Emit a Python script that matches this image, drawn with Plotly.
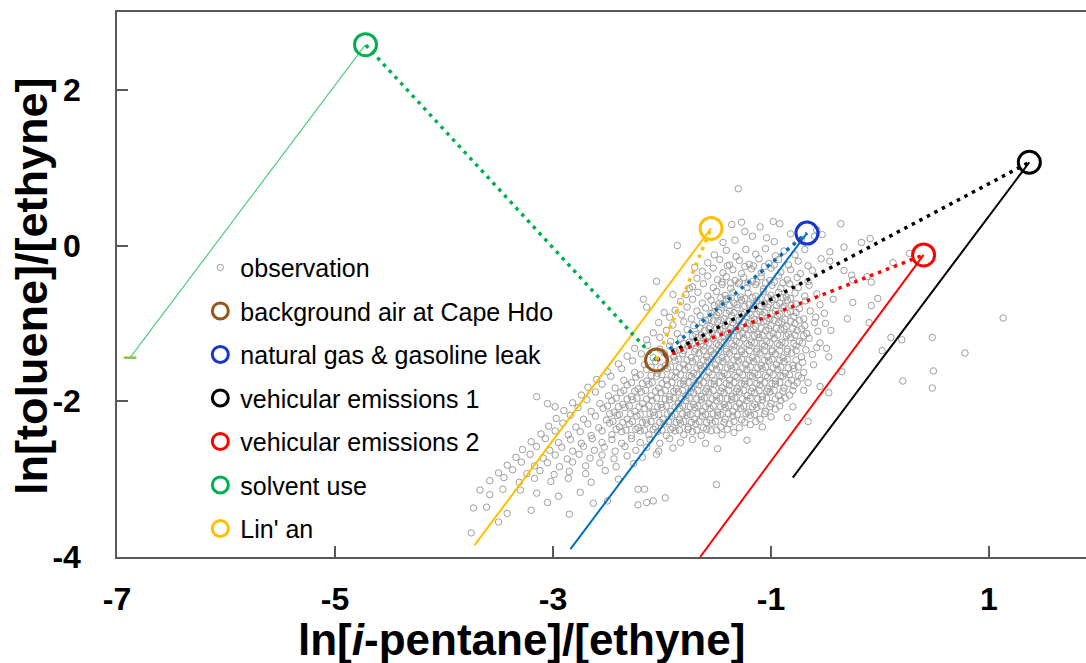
import plotly.graph_objects as go

obs_points = [
    (-1.30, 0.73),
    (-1.27, 0.30), (-1.10, 0.24), (-0.98, 0.31), (-0.92, 0.28), (-1.36, 0.27), (-0.36, 0.28),
    (-1.44, 0.04), (-1.33, 0.07), (-1.17, 0.12), (-1.04, 0.10), (-1.24, 0.18), (-0.97, 0.05), (-1.86, 0.00),
    (-0.53, 0.14), (-0.17, 0.04), (-0.09, 0.09), (-0.60, 0.12), (-0.72, 0.08), (-0.58, 0.20), (-0.82, 0.15),
    (-1.52, -0.12), (-1.41, -0.06), (-1.32, -0.14), (-1.23, -0.05), (-1.14, -0.11), (-1.05, -0.04), (-0.96, -0.13),
    (-0.88, -0.07), (-0.78, -0.12), (-0.69, -0.05), (-0.46, -0.08), (-0.33, -0.02), (0.27, -0.10), (-0.54, -0.17),
    (-1.58, -0.22), (-1.47, -0.18), (-1.38, -0.25), (-1.29, -0.19), (-1.20, -0.24), (-1.11, -0.17), (-1.02, -0.23),
    (-0.93, -0.18), (-0.84, -0.25), (-0.75, -0.20), (-0.66, -0.26), (-0.46, -0.20), (0.12, -0.22), (-1.70, -0.28),
    (-1.63, -0.33), (-1.53, -0.29), (-1.44, -0.35), (-1.35, -0.31), (-1.27, -0.36), (-1.18, -0.30), (-1.09, -0.35),
    (-1.00, -0.29), (-0.91, -0.34), (-0.82, -0.31), (-0.73, -0.36), (-0.62, -0.32), (-0.33, -0.32),
    (-1.40, -0.26), (-1.24, -0.27), (-1.16, -0.26), (-1.06, -0.27), (-0.97, -0.25),
    (-1.68, -0.42), (-1.58, -0.39), (-1.49, -0.44), (-1.41, -0.40), (-1.33, -0.45), (-1.25, -0.41), (-1.17, -0.46),
    (-1.09, -0.40), (-1.01, -0.45), (-0.93, -0.39), (-0.85, -0.44), (-0.76, -0.41), (-0.66, -0.46), (-0.26, -0.38),
    (-0.12, -0.40), (-2.05, -0.46), (-1.75, -0.55),
    (-1.45, -0.47), (-1.37, -0.48), (-1.29, -0.47), (-1.21, -0.48), (-1.13, -0.47), (-1.05, -0.48), (-0.97, -0.47),
    (-0.89, -0.48),
    (-1.72, -0.53), (-1.62, -0.49), (-1.53, -0.54), (-1.45, -0.50), (-1.37, -0.55), (-1.30, -0.49), (-1.22, -0.54),
    (-1.14, -0.50), (-1.07, -0.56), (-0.99, -0.51), (-0.91, -0.55), (-0.83, -0.49), (-0.75, -0.54), (-0.65, -0.51),
    (-0.25, -0.44), (-0.08, -0.47),
    (-1.78, -0.63), (-1.67, -0.60), (-1.58, -0.65), (-1.50, -0.59), (-1.42, -0.64), (-1.35, -0.60), (-1.28, -0.66),
    (-1.21, -0.61), (-1.14, -0.65), (-1.07, -0.59), (-1.00, -0.64), (-0.93, -0.60), (-0.86, -0.66), (-0.78, -0.61),
    (-0.69, -0.65), (-0.58, -0.62), (-1.90, -0.63), (-2.17, -0.69),
    (-1.46, -0.67), (-1.39, -0.68), (-1.31, -0.67), (-1.24, -0.68), (-1.17, -0.67), (-1.10, -0.68), (-1.03, -0.67),
    (-0.96, -0.68), (-0.89, -0.67), (-0.82, -0.68),
    (-1.83, -0.72), (-1.72, -0.69), (-1.63, -0.74), (-1.55, -0.70), (-1.48, -0.75), (-1.41, -0.69), (-1.34, -0.74),
    (-1.27, -0.70), (-1.20, -0.76), (-1.13, -0.71), (-1.06, -0.75), (-0.99, -0.69), (-0.92, -0.74), (-0.85, -0.70),
    (-0.77, -0.75), (-0.68, -0.71), (-0.43, -0.69), (-0.25, -0.73), (-0.02, -0.68), (-0.55, -0.76),
    (-1.52, -0.77), (-1.45, -0.76), (-1.38, -0.77), (-1.31, -0.76), (-1.24, -0.78), (-1.16, -0.77), (-1.09, -0.78),
    (-1.02, -0.76), (-0.95, -0.77), (-0.88, -0.78), (-0.81, -0.77),
    (-1.88, -0.83), (-1.77, -0.79), (-1.68, -0.84), (-1.60, -0.80), (-1.52, -0.85), (-1.45, -0.79), (-1.38, -0.84),
    (-1.31, -0.80), (-1.24, -0.86), (-1.17, -0.81), (-1.10, -0.85), (-1.03, -0.79), (-0.96, -0.84), (-0.89, -0.80),
    (-0.82, -0.85), (-0.74, -0.81), (-0.64, -0.84), (-2.14, -0.79), (-0.08, -0.77), (-0.51, -0.87),
    (-1.55, -0.87), (-1.48, -0.86), (-1.41, -0.87), (-1.34, -0.86), (-1.27, -0.88), (-1.20, -0.87), (-1.13, -0.88),
    (-1.06, -0.86), (-0.99, -0.87), (-0.92, -0.88), (-0.85, -0.87), (-0.77, -0.86),
    (-1.93, -0.92), (-1.82, -0.89), (-1.73, -0.94), (-1.65, -0.90), (-1.57, -0.95), (-1.50, -0.89), (-1.43, -0.94),
    (-1.36, -0.90), (-1.29, -0.96), (-1.22, -0.91), (-1.15, -0.95), (-1.08, -0.89), (-1.01, -0.94), (-0.94, -0.90),
    (-0.87, -0.95), (-0.79, -0.91), (-0.70, -0.94), (-0.59, -0.92), (-1.98, -0.86), (-0.30, -0.94), (1.13, -0.93),
    (-1.60, -0.96), (-1.53, -0.97), (-1.46, -0.96), (-1.39, -0.97), (-1.32, -0.96), (-1.25, -0.98), (-1.18, -0.97),
    (-1.11, -0.96), (-1.04, -0.97), (-0.97, -0.96), (-0.90, -0.98), (-0.82, -0.97), (-0.74, -0.96),
    (-2.03, -0.99), (-1.90, -1.02), (-1.80, -0.98), (-1.71, -1.03), (-1.63, -0.99), (-1.56, -1.04), (-1.49, -0.98),
    (-1.42, -1.03), (-1.35, -0.99), (-1.28, -1.05), (-1.21, -1.00), (-1.14, -1.04), (-1.07, -0.98), (-1.00, -1.03),
    (-0.93, -0.99), (-0.86, -1.04), (-0.78, -1.00), (-0.69, -1.03), (-0.60, -0.99), (-0.50, -1.00), (-0.10, -0.99),
    (-1.65, -1.06), (-1.57, -1.07), (-1.50, -1.06), (-1.44, -1.07), (-1.37, -1.06), (-1.30, -1.07), (-1.23, -1.06),
    (-1.16, -1.07), (-1.09, -1.06), (-1.02, -1.07), (-0.95, -1.06), (-0.88, -1.07), (-0.80, -1.06), (-0.72, -1.07),
    (-2.08, -1.12), (-1.96, -1.09), (-1.86, -1.13), (-1.77, -1.08), (-1.69, -1.14), (-1.61, -1.09), (-1.54, -1.13),
    (-1.47, -1.08), (-1.40, -1.14), (-1.33, -1.09), (-1.26, -1.13), (-1.19, -1.08), (-1.12, -1.14), (-1.05, -1.09),
    (-0.98, -1.13), (-0.91, -1.08), (-0.84, -1.14), (-0.76, -1.09), (-0.67, -1.13), (-0.57, -1.10), (-0.45, -1.09),
    (-1.72, -1.16), (-1.64, -1.15), (-1.57, -1.16), (-1.50, -1.15), (-1.43, -1.16), (-1.36, -1.15), (-1.29, -1.16),
    (-1.22, -1.15), (-1.15, -1.16), (-1.08, -1.15), (-1.01, -1.16), (-0.94, -1.15), (-0.86, -1.16), (-0.78, -1.15),
    (-0.70, -1.16),
    (-2.14, -1.21), (-2.02, -1.18), (-1.92, -1.23), (-1.83, -1.19), (-1.75, -1.24), (-1.67, -1.18), (-1.60, -1.23),
    (-1.53, -1.19), (-1.46, -1.24), (-1.39, -1.18), (-1.32, -1.23), (-1.25, -1.19), (-1.18, -1.24), (-1.11, -1.18),
    (-1.04, -1.23), (-0.97, -1.19), (-0.90, -1.24), (-0.82, -1.18), (-0.74, -1.23), (-0.65, -1.19), (-0.55, -1.25),
    (0.48, -1.18), (0.10, -1.18), (0.20, -1.21),
    (-1.80, -1.26), (-1.72, -1.25), (-1.64, -1.26), (-1.57, -1.25), (-1.50, -1.26), (-1.43, -1.25), (-1.36, -1.26),
    (-1.29, -1.25), (-1.22, -1.26), (-1.15, -1.25), (-1.08, -1.26), (-1.01, -1.25), (-0.94, -1.26), (-0.87, -1.25),
    (-0.79, -1.26), (-0.71, -1.25),
    (-2.25, -1.32), (-2.13, -1.28), (-2.02, -1.33), (-1.93, -1.29), (-1.84, -1.34), (-1.76, -1.28), (-1.69, -1.33),
    (-1.62, -1.29), (-1.55, -1.34), (-1.48, -1.28), (-1.41, -1.33), (-1.34, -1.29), (-1.27, -1.34), (-1.20, -1.28),
    (-1.13, -1.33), (-1.06, -1.29), (-0.99, -1.34), (-0.92, -1.28), (-0.85, -1.33), (-0.77, -1.29), (-0.68, -1.34),
    (-0.58, -1.31), (-0.49, -1.32), (0.02, -1.35), (0.78, -1.38),
    (-1.88, -1.36), (-1.80, -1.35), (-1.70, -1.36), (-1.62, -1.35), (-1.55, -1.36), (-1.48, -1.35), (-1.41, -1.36),
    (-1.34, -1.35), (-1.27, -1.36), (-1.20, -1.35), (-1.13, -1.36), (-1.06, -1.35), (-0.99, -1.36), (-0.92, -1.35),
    (-0.85, -1.36), (-0.77, -1.35),
    (-2.32, -1.42), (-2.19, -1.39), (-2.08, -1.44), (-1.98, -1.38), (-1.89, -1.43), (-1.81, -1.39), (-1.73, -1.44),
    (-1.66, -1.38), (-1.59, -1.43), (-1.52, -1.39), (-1.45, -1.44), (-1.38, -1.38), (-1.31, -1.43), (-1.24, -1.39),
    (-1.17, -1.44), (-1.10, -1.38), (-1.03, -1.43), (-0.96, -1.39), (-0.89, -1.44), (-0.81, -1.38), (-0.72, -1.43),
    (-0.62, -1.40), (-0.47, -1.43),
    (-1.94, -1.46), (-1.85, -1.46), (-1.77, -1.47), (-1.69, -1.46), (-1.62, -1.47), (-1.55, -1.46), (-1.48, -1.47),
    (-1.41, -1.46), (-1.34, -1.47), (-1.27, -1.46), (-1.20, -1.47), (-1.13, -1.46), (-1.06, -1.47), (-0.99, -1.46),
    (-0.92, -1.47), (-0.85, -1.46), (-0.77, -1.47),
    (-2.40, -1.52), (-2.27, -1.48), (-2.16, -1.53), (-2.06, -1.49), (-1.97, -1.54), (-1.88, -1.48), (-1.80, -1.53),
    (-1.72, -1.49), (-1.65, -1.54), (-1.58, -1.48), (-1.51, -1.53), (-1.44, -1.49), (-1.37, -1.54), (-1.30, -1.48),
    (-1.23, -1.53), (-1.16, -1.49), (-1.09, -1.54), (-1.02, -1.48), (-0.95, -1.53), (-0.88, -1.49), (-0.80, -1.54),
    (-0.71, -1.50), (-0.61, -1.53),
    (-2.10, -1.56), (-2.01, -1.57), (-1.92, -1.56), (-1.84, -1.57), (-1.76, -1.56), (-1.68, -1.57), (-1.61, -1.56),
    (-1.54, -1.57), (-1.47, -1.56), (-1.40, -1.57), (-1.33, -1.56), (-1.26, -1.57), (-1.19, -1.56), (-1.12, -1.57),
    (-1.05, -1.56), (-0.98, -1.57), (-0.91, -1.56), (-0.84, -1.57), (-0.75, -1.56),
    (-2.50, -1.62), (-2.37, -1.58), (-2.25, -1.63), (-2.14, -1.59), (-2.04, -1.64), (-1.95, -1.58), (-1.87, -1.63),
    (-1.79, -1.59), (-1.71, -1.64), (-1.64, -1.58), (-1.57, -1.63), (-1.50, -1.59), (-1.43, -1.64), (-1.36, -1.58),
    (-1.29, -1.63), (-1.22, -1.59), (-1.15, -1.64), (-1.08, -1.58), (-1.01, -1.63), (-0.94, -1.59), (-0.87, -1.64),
    (-0.79, -1.58), (-0.70, -1.63), (0.49, -1.61), (-0.35, -1.62),
    (-2.20, -1.66), (-2.10, -1.67), (-2.00, -1.66), (-1.91, -1.67), (-1.83, -1.66), (-1.75, -1.67), (-1.68, -1.66),
    (-1.61, -1.67), (-1.54, -1.66), (-1.47, -1.67), (-1.40, -1.66), (-1.33, -1.67), (-1.26, -1.66), (-1.19, -1.67),
    (-1.12, -1.66), (-1.05, -1.67), (-0.98, -1.66), (-0.91, -1.67), (-0.83, -1.66), (-0.75, -1.67),
    (-2.60, -1.72), (-2.47, -1.68), (-2.35, -1.73), (-2.24, -1.69), (-2.14, -1.74), (-2.05, -1.68), (-1.96, -1.73),
    (-1.88, -1.69), (-1.80, -1.74), (-1.73, -1.68), (-1.66, -1.73), (-1.59, -1.69), (-1.52, -1.74), (-1.45, -1.68),
    (-1.38, -1.73), (-1.31, -1.69), (-1.24, -1.74), (-1.17, -1.68), (-1.10, -1.73), (-1.03, -1.69), (-0.96, -1.74),
    (-0.89, -1.68), (-0.81, -1.73), (-0.72, -1.70), (0.21, -1.74), (-0.66, -1.76),
    (-2.28, -1.76), (-2.18, -1.77), (-2.09, -1.76), (-2.00, -1.77), (-1.91, -1.76), (-1.83, -1.77), (-1.76, -1.76),
    (-1.69, -1.77), (-1.62, -1.76), (-1.55, -1.77), (-1.48, -1.76), (-1.41, -1.77), (-1.34, -1.76), (-1.27, -1.77),
    (-1.20, -1.76), (-1.13, -1.77), (-1.06, -1.76), (-0.99, -1.77), (-0.92, -1.76), (-0.84, -1.77), (-0.76, -1.76),
    (-2.68, -1.82), (-2.55, -1.78), (-2.43, -1.83), (-2.32, -1.79), (-2.22, -1.84), (-2.12, -1.78), (-2.03, -1.83),
    (-1.95, -1.79), (-1.87, -1.84), (-1.80, -1.78), (-1.73, -1.83), (-1.66, -1.79), (-1.59, -1.84), (-1.52, -1.78),
    (-1.45, -1.83), (-1.38, -1.79), (-1.31, -1.84), (-1.24, -1.78), (-1.17, -1.83), (-1.10, -1.79), (-1.03, -1.84),
    (-0.96, -1.78), (-0.88, -1.83), (-0.79, -1.80), (-0.55, -1.81), (0.48, -1.83),
    (-2.35, -1.86), (-2.25, -1.87), (-2.15, -1.86), (-2.06, -1.87), (-1.97, -1.86), (-1.89, -1.87), (-1.81, -1.86),
    (-1.74, -1.87), (-1.67, -1.86), (-1.60, -1.87), (-1.53, -1.86), (-1.46, -1.87), (-1.39, -1.86), (-1.32, -1.87),
    (-1.25, -1.86), (-1.18, -1.87), (-1.11, -1.86), (-1.04, -1.87), (-0.97, -1.86), (-0.89, -1.87), (-0.80, -1.86),
    (-2.74, -1.92), (-2.61, -1.88), (-2.49, -1.93), (-2.38, -1.89), (-2.28, -1.94), (-2.19, -1.88), (-2.10, -1.93),
    (-2.01, -1.89), (-1.93, -1.94), (-1.85, -1.88), (-1.78, -1.93), (-1.71, -1.89), (-1.64, -1.94), (-1.57, -1.88),
    (-1.50, -1.93), (-1.43, -1.89), (-1.36, -1.94), (-1.29, -1.88), (-1.22, -1.93), (-1.15, -1.89), (-1.08, -1.94),
    (-1.01, -1.88), (-0.93, -1.93), (-0.83, -1.92), (-0.70, -1.86), (-0.47, -1.89), (-3.15, -1.94),
    (-2.42, -1.96), (-2.32, -1.97), (-2.23, -1.96), (-2.14, -1.97), (-2.05, -1.96), (-1.97, -1.97), (-1.89, -1.96),
    (-1.82, -1.97), (-1.75, -1.96), (-1.68, -1.97), (-1.61, -1.96), (-1.54, -1.97), (-1.47, -1.96), (-1.40, -1.97),
    (-1.33, -1.96), (-1.26, -1.97), (-1.19, -1.96), (-1.12, -1.97), (-1.04, -1.96), (-0.96, -1.97), (-0.87, -1.96),
    (-2.82, -2.02), (-2.69, -1.98), (-2.57, -2.03), (-2.46, -1.99), (-2.36, -2.04), (-2.27, -1.98), (-2.18, -2.03),
    (-2.09, -1.99), (-2.01, -2.04), (-1.93, -1.98), (-1.85, -2.03), (-1.78, -1.99), (-1.71, -2.04), (-1.64, -1.98),
    (-1.57, -2.03), (-1.50, -1.99), (-1.43, -2.04), (-1.36, -1.98), (-1.29, -2.03), (-1.22, -1.99), (-1.15, -2.04),
    (-1.08, -1.98), (-1.00, -2.03), (-0.91, -1.99), (-3.05, -2.03),
    (-2.50, -2.06), (-2.40, -2.07), (-2.30, -2.06), (-2.21, -2.07), (-2.12, -2.06), (-2.04, -2.07), (-1.96, -2.06),
    (-1.88, -2.07), (-1.81, -2.06), (-1.74, -2.07), (-1.67, -2.06), (-1.60, -2.07), (-1.53, -2.06), (-1.46, -2.07),
    (-1.39, -2.06), (-1.32, -2.07), (-1.25, -2.06), (-1.17, -2.07), (-1.09, -2.06), (-1.01, -2.07), (-0.92, -2.06),
    (-2.90, -2.12), (-2.77, -2.08), (-2.65, -2.13), (-2.54, -2.09), (-2.44, -2.14), (-2.34, -2.08), (-2.25, -2.13),
    (-2.16, -2.09), (-2.08, -2.14), (-2.00, -2.08), (-1.92, -2.13), (-1.84, -2.09), (-1.77, -2.14), (-1.70, -2.08),
    (-1.63, -2.13), (-1.56, -2.09), (-1.49, -2.14), (-1.42, -2.08), (-1.35, -2.13), (-1.28, -2.09), (-1.21, -2.14),
    (-1.13, -2.08), (-1.05, -2.13), (-0.96, -2.10), (-0.80, -2.07), (-2.98, -2.07),
    (-2.48, -2.16), (-2.39, -2.17), (-2.29, -2.16), (-2.20, -2.17), (-2.11, -2.16), (-2.03, -2.17), (-1.95, -2.16),
    (-1.88, -2.17), (-1.81, -2.16), (-1.74, -2.17), (-1.67, -2.16), (-1.60, -2.17), (-1.53, -2.16), (-1.46, -2.17),
    (-1.39, -2.16), (-1.31, -2.17), (-1.23, -2.16), (-1.15, -2.17), (-1.06, -2.16),
    (-2.97, -2.22), (-2.84, -2.18), (-2.72, -2.23), (-2.61, -2.19), (-2.51, -2.24), (-2.41, -2.18), (-2.32, -2.23),
    (-2.23, -2.19), (-2.15, -2.24), (-2.07, -2.18), (-1.99, -2.23), (-1.91, -2.19), (-1.84, -2.24), (-1.77, -2.18),
    (-1.70, -2.23), (-1.63, -2.19), (-1.56, -2.24), (-1.49, -2.18), (-1.42, -2.23), (-1.35, -2.19), (-1.27, -2.24),
    (-1.19, -2.18), (-1.10, -2.23), (-1.00, -2.20), (-0.85, -2.21), (-0.66, -2.26),
    (-2.45, -2.26), (-2.36, -2.27), (-2.27, -2.26), (-2.18, -2.27), (-2.10, -2.26), (-2.02, -2.27), (-1.94, -2.26),
    (-1.87, -2.27), (-1.80, -2.26), (-1.73, -2.27), (-1.66, -2.26), (-1.59, -2.27), (-1.51, -2.26), (-1.43, -2.27),
    (-1.34, -2.26), (-1.24, -2.27), (-1.14, -2.26),
    (-3.04, -2.32), (-2.91, -2.28), (-2.79, -2.33), (-2.68, -2.29), (-2.58, -2.34), (-2.48, -2.28), (-2.39, -2.33),
    (-2.30, -2.29), (-2.22, -2.34), (-2.14, -2.28), (-2.06, -2.33), (-1.98, -2.29), (-1.90, -2.34), (-1.83, -2.28),
    (-1.76, -2.33), (-1.69, -2.29), (-1.62, -2.34), (-1.54, -2.28), (-1.46, -2.33), (-1.38, -2.29), (-1.29, -2.34),
    (-1.19, -2.30), (-1.08, -2.33),
    (-2.42, -2.36), (-2.33, -2.37), (-2.24, -2.36), (-2.16, -2.37), (-2.08, -2.36), (-2.00, -2.37), (-1.92, -2.36),
    (-1.84, -2.37), (-1.76, -2.36), (-1.68, -2.37), (-1.59, -2.36), (-1.50, -2.37), (-1.40, -2.36),
    (-3.11, -2.42), (-2.98, -2.38), (-2.86, -2.43), (-2.75, -2.39), (-2.65, -2.44), (-2.55, -2.38), (-2.46, -2.43),
    (-2.37, -2.39), (-2.28, -2.44), (-2.20, -2.38), (-2.12, -2.43), (-2.04, -2.39), (-1.96, -2.44), (-1.88, -2.38),
    (-1.80, -2.43), (-1.72, -2.39), (-1.64, -2.44), (-1.55, -2.38), (-1.45, -2.43), (-1.34, -2.40), (-1.22, -2.50),
    (-3.20, -2.52), (-3.07, -2.48), (-2.95, -2.53), (-2.84, -2.49), (-2.74, -2.54), (-2.64, -2.48), (-2.55, -2.53),
    (-2.46, -2.49), (-2.37, -2.54), (-2.28, -2.48), (-2.20, -2.53), (-2.11, -2.49), (-2.02, -2.54), (-1.93, -2.48),
    (-1.83, -2.53), (-1.72, -2.49), (-1.60, -2.54), (-1.49, -2.61),
    (-3.28, -2.62), (-3.15, -2.58), (-3.03, -2.63), (-2.92, -2.59), (-2.82, -2.64), (-2.72, -2.58), (-2.62, -2.63),
    (-2.53, -2.59), (-2.43, -2.64), (-2.34, -2.58), (-2.24, -2.63), (-2.14, -2.59), (-2.03, -2.64), (-1.90, -2.60),
    (-3.34, -2.72), (-3.21, -2.68), (-3.09, -2.73), (-2.98, -2.69), (-2.87, -2.74), (-2.76, -2.68), (-2.66, -2.73),
    (-2.55, -2.69), (-2.44, -2.74), (-2.32, -2.70), (-2.18, -2.72), (-2.05, -2.68),
    (-3.42, -2.82), (-3.29, -2.78), (-3.17, -2.83), (-3.05, -2.79), (-2.94, -2.84), (-2.82, -2.78), (-2.70, -2.83),
    (-2.57, -2.79), (-2.42, -2.84), (-2.26, -2.80),
    (-3.50, -2.92), (-3.37, -2.88), (-3.24, -2.93), (-3.12, -2.89), (-2.99, -2.94), (-2.85, -2.90), (-2.70, -2.93),
    (-2.52, -2.89),
    (-3.58, -3.02), (-3.45, -2.98), (-3.31, -3.04), (-3.17, -2.99), (-3.02, -3.03), (-2.86, -2.99), (-2.65, -3.04),
    (-2.40, -3.00),
    (-3.67, -3.14), (-3.58, -3.20), (-3.46, -3.13), (-3.30, -3.14), (-3.15, -3.18), (-2.95, -3.22), (-2.75, -3.17),
    (-2.63, -3.31), (-2.50, -3.28), (-2.22, -3.13), (-2.16, -3.13), (-2.22, -3.33), (-2.14, -3.30), (-2.08, -3.28),
    (-1.97, -3.24), (-1.50, -3.07), (-3.05, -3.30),
    (-3.73, -3.37), (-3.61, -3.36), (-3.42, -3.44), (-3.20, -3.40), (-2.85, -3.45), (-3.75, -3.69), (-3.50, -3.55),
]

# ---- source profiles (end-members)
src_names = ["background air at Cape Hdo", "natural gas & gasoline leak", "vehicular emissions 1",
             "vehicular emissions 2", "solvent use", "Lin' an"]
src_x = [-2.05, -0.67, 1.37, 0.40, -4.72, -1.55]
src_y = [-1.47, 0.16, 1.07, -0.12, 2.58, 0.22]
src_colors = ["#97561A", "#1535D0", "#000000", "#FF0000", "#00B050", "#FFC000"]

# aging (solid) lines: lower ends for sources 1..5 (background has none)
line_end_x = [-2.84, -0.80, -1.65, -6.88, -3.72]
line_end_y = [-3.90, -2.98, -4.00, -1.44, -3.85]
line_colors = ["#0070C0", "#000000", "#FF0000", "#4FCB85", "#FFC000"]
line_widths = [2, 2, 2, 1.2, 2]
# mixing (dotted) lines from background to each source
dot_colors = ["#0070C0", "#000000", "#FF0000", "#00B050", "#FFC000"]

x_ticks = [-7, -5, -3, -1, 1]
y_ticks = [-4, -2, 0, 2]

FONT = "Liberation Sans, Arial, sans-serif"

fig = go.Figure()

fig.add_trace(go.Scatter(
    x=[p[0] for p in obs_points], y=[p[1] for p in obs_points], mode="markers",
    name="observation", legendgroup="g0",
    marker=dict(symbol="circle-open", size=6.5, color="#9E9E9E", line=dict(width=1)),
))

# solid lines
for i in range(5):
    fig.add_trace(go.Scatter(
        x=[src_x[i + 1], line_end_x[i]], y=[src_y[i + 1], line_end_y[i]], mode="lines",
        line=dict(color=line_colors[i], width=line_widths[i]), showlegend=False, hoverinfo="skip",
    ))
# small end tick at the solvent line's lower end
fig.add_trace(go.Scatter(
    x=[line_end_x[3]], y=[line_end_y[3]], mode="markers", showlegend=False, hoverinfo="skip",
    marker=dict(symbol="line-ew", size=9, line=dict(color="#8DC04A", width=2.5)),
))

# dotted mixing lines
for i in range(5):
    fig.add_trace(go.Scatter(
        x=[src_x[0], src_x[i + 1]], y=[src_y[0], src_y[i + 1]], mode="lines",
        line=dict(color=dot_colors[i], width=3.5, dash="3.5px,5px"), showlegend=False, hoverinfo="skip",
    ))

# source circles (legend entries)
for i in range(6):
    fig.add_trace(go.Scatter(
        x=[src_x[i]], y=[src_y[i]], mode="markers", name=src_names[i], legendgroup="g%d" % (i + 1),
        marker=dict(symbol="circle-open", size=22, color=src_colors[i], line=dict(width=3)),
    ))

fig.update_layout(
    width=1086, height=663,
    margin=dict(l=117, r=0, t=12, b=106),
    paper_bgcolor="white", plot_bgcolor="white",
    font=dict(family=FONT, color="black"),
    showlegend=True,
    legend=dict(
        x=0.086, y=0.573, xanchor="left", yanchor="top",
        bgcolor="rgba(0,0,0,0)", borderwidth=0,
        font=dict(family=FONT, size=25, color="black"),
        tracegroupgap=8, itemsizing="trace",
    ),
    xaxis=dict(
        range=[-7, 1.89], tickvals=x_ticks, ticktext=[str(v) for v in x_ticks],
        showgrid=False, zeroline=False, showline=True, linecolor="#595959", linewidth=1.5,
        mirror=True, ticks="inside", ticklen=11, tickcolor="#595959", tickwidth=1.5,
        tickfont=dict(family=FONT, size=32, color="black", weight="bold"), ticklabelstandoff=13,
    ),
    yaxis=dict(
        range=[-4, 3], tickvals=y_ticks, ticktext=[str(v) for v in y_ticks],
        showgrid=False, zeroline=False, showline=True, linecolor="#595959", linewidth=1.5,
        ticks="inside", ticklen=11, tickcolor="#595959", tickwidth=1.5,
        tickfont=dict(family=FONT, size=32, color="black", weight="bold"), ticklabelstandoff=28,
    ),
    annotations=[
        dict(text="ln[<i>i</i>-pentane]/[ethyne]", xref="paper", yref="paper", x=0.417, y=-0.152,
             xanchor="center", yanchor="middle", showarrow=False,
             font=dict(family=FONT, size=44, color="black", weight="bold")),
        dict(text="ln[toluene]/[ethyne]", xref="paper", yref="paper", x=-0.089, y=0.497,
             xanchor="center", yanchor="middle", textangle=-90, showarrow=False,
             font=dict(family=FONT, size=45, color="black", weight="bold")),
    ],
)

fig.write_html("out.html")
